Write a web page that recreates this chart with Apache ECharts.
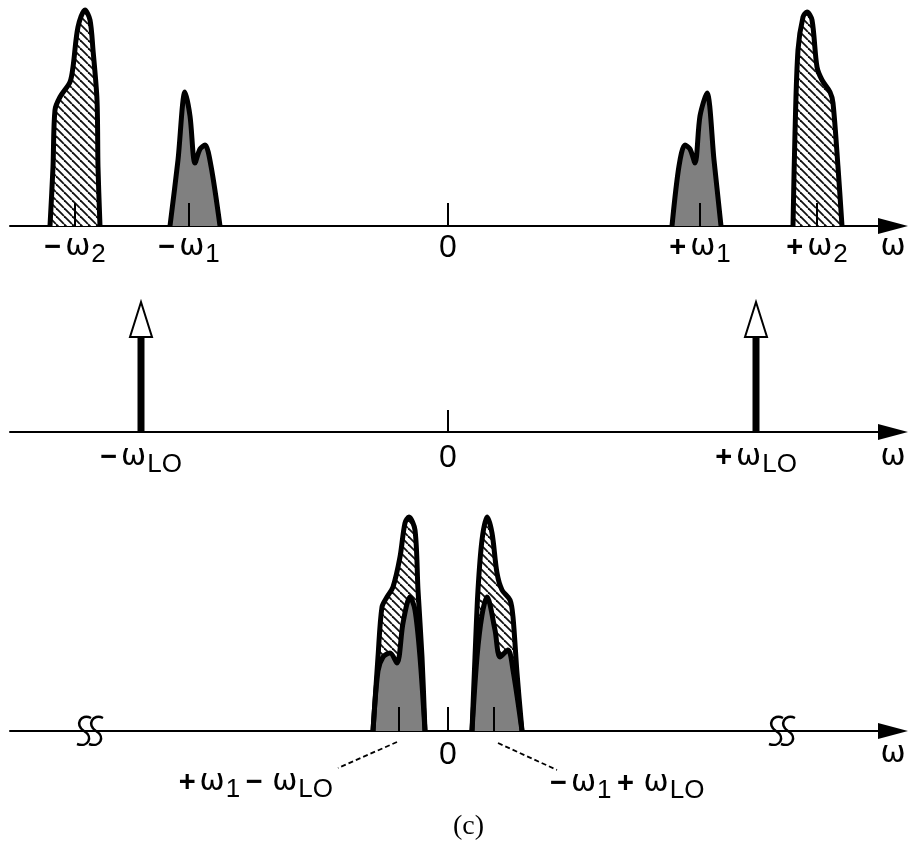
<!DOCTYPE html>
<html>
<head>
<meta charset="utf-8">
<title>Mixer spectra (c)</title>
<script src="https://cdn.jsdelivr.net/npm/echarts@6/dist/echarts.min.js"></script>
<style>
  html, body { margin: 0; padding: 0; background: #fff; }
  #chart { width: 910px; height: 847px; }
</style>
</head>
<body>
<div id="chart"></div>
<script>
// frequency axis, same scale on all three rows (0 = dc)
const axisMin = -438;
const axisMax = 445;

// row 1: input spectrum, [omega, amplitude]
const negOmega2 = [[-398, 0], [-395, 59], [-393, 116], [-388, 129], [-378, 144], [-375, 159], [-370, 199], [-363, 216], [-358, 206], [-355, 176], [-351, 126], [-350, 59], [-348, 0]];
const negOmega1 = [[-278, 0], [-270, 66], [-263, 134], [-258, 110], [-253, 63], [-248, 77], [-243, 81], [-237, 60], [-228, 0]];
const posOmega1 = [[224, 0], [231, 60], [237, 81], [242, 77], [247, 63], [252, 110], [259, 133], [266, 66], [273, 0]];
const posOmega2 = [[345, 0], [347, 93], [350, 176], [355, 209], [359, 214], [364, 206], [369, 159], [374, 146], [382, 134], [385, 123], [390, 59], [394, 0]];
const topTicks = [-373, -259, 0, 252, 369];
const topTickHeight = 23;
const topLabels = ['−ω2', '−ω1', '0', '+ω1', '+ω2'];

// row 2: local oscillator
const loX = [-307, 308];
const loStem = 95;
const loHead = 130;
const midTicks = [0];
const midTickHeight = 22;
const midLabelX = [-307, 0, 308];
const midLabels = ['−ωLO', '0', '+ωLO'];

// row 3: down-converted output (hatched = image, gray = wanted)
const lowImage = [[-75, 0], [-70, 74], [-66, 124], [-61, 134], [-55, 144], [-48, 174], [-43, 208], [-39, 214], [-33, 201], [-30, 141], [-26, 74], [-23, 0]];
const lowSignal = [[-75, 0], [-70, 60], [-65, 74], [-58, 78], [-51, 68], [-45, 108], [-38, 134], [-33, 121], [-28, 74], [-23, 0]];
const highImage = [[24, 0], [27, 74], [30, 141], [34, 191], [39, 214], [44, 198], [49, 158], [54, 141], [62, 131], [65, 114], [69, 58], [74, 0]];
const highSignal = [[24, 0], [29, 74], [34, 116], [39, 134], [47, 101], [52, 74], [60, 81], [65, 61], [74, 0]];
const bottomTicks = [-49, 0, 46];
const bottomTickHeight = 24;
const bottomLabelX = [0];
const bottomLabels = ['0'];
const breakX = [-358, 334];
const noteText = ['+ω1 − ωLO', '−ω1 + ωLO'];
const noteX = [-115, 102];
const noteY = [-51, -52];
const leaderStart = [[-51, -11], [50, -12]];
const leaderEnd = [[-110, -37], [109, -39]];

const chart = echarts.init(document.getElementById('chart'));

// diagonal hatch fill
const hatch = document.createElement('canvas');
hatch.width = 8;
hatch.height = 8;
const hc = hatch.getContext('2d');
hc.fillStyle = '#fff';
hc.fillRect(0, 0, 8, 8);
hc.strokeStyle = '#111';
hc.lineWidth = 1.8;
[-8, 0, 8].forEach(o => {
  hc.beginPath();
  hc.moveTo(o, 0);
  hc.lineTo(o + 8, 8);
  hc.stroke();
});
const hatchFill = { image: hatch, repeat: 'repeat' };
const grayFill = '#808080';

const rich = {
  p: { fontSize: 29, fontWeight: 'bold', fontFamily: 'Liberation Sans', color: '#000', verticalAlign: 'top', lineHeight: 30, padding: [1, 4, 0, 0] },
  w: { fontSize: 30, fontFamily: 'DejaVu Sans', color: '#000', verticalAlign: 'top', lineHeight: 30 },
  s: { fontSize: 26, fontFamily: 'Liberation Sans', color: '#000', verticalAlign: 'top', lineHeight: 30, padding: [10, 0, 0, 1] },
  g: { fontSize: 20, fontFamily: 'Liberation Sans', verticalAlign: 'top', lineHeight: 30 },
  z: { fontSize: 32, fontFamily: 'Liberation Sans', color: '#000', verticalAlign: 'top', lineHeight: 30 }
};

// '+ω1 − ωLO' -> rich text tokens
function richText(label) {
  let out = '';
  let i = 0;
  while (i < label.length) {
    const c = label[i];
    if (c === '+' || c === '−') {
      out += '{p|' + c + '}';
      i++;
    } else if (c === 'ω') {
      out += '{w|ω}';
      i++;
      let sub = '';
      while (i < label.length && label[i] !== ' ') {
        sub += label[i];
        i++;
      }
      if (sub) out += '{s|' + sub + '}';
    } else if (c === ' ') {
      out += '{g| }';
      i++;
    } else {
      out += '{z|' + c + '}';
      i++;
    }
  }
  return out;
}

const grids = [
  { left: 10, width: 883, top: 6, height: 220 },
  { left: 10, width: 883, top: 302, height: 130 },
  { left: 10, width: 883, top: 511, height: 220 }
];
const yMax = [220, 130, 220];

function freqAxis(gridIndex, values, labels, margin) {
  const all = values.concat([axisMax]);
  const names = labels.concat(['ω']);
  return {
    gridIndex: gridIndex,
    type: 'value',
    min: axisMin,
    max: axisMax,
    axisLine: {
      show: true,
      onZero: false,
      symbol: ['none', 'triangle'],
      symbolSize: [16, 30],
      lineStyle: { color: '#000', width: 2 }
    },
    axisTick: { show: false },
    splitLine: { show: false },
    axisLabel: {
      customValues: all,
      margin: margin,
      formatter: v => richText(names[all.indexOf(v)] || ''),
      rich: rich
    }
  };
}

function spectrum(data, fill, gridIndex) {
  return {
    type: 'line',
    xAxisIndex: gridIndex,
    yAxisIndex: gridIndex,
    data: data,
    smooth: 0.3,
    symbol: 'none',
    silent: true,
    lineStyle: { color: '#000', width: 5, join: 'round' },
    areaStyle: { color: fill, opacity: 1 }
  };
}

function ticks(xs, h, gridIndex) {
  return {
    type: 'custom',
    xAxisIndex: gridIndex,
    yAxisIndex: gridIndex,
    z: 5,
    silent: true,
    data: xs.map(x => [x, h]),
    renderItem: (params, api) => {
      const a = api.coord([api.value(0), 0]);
      const b = api.coord([api.value(0), api.value(1)]);
      return {
        type: 'line',
        shape: { x1: a[0], y1: a[1], x2: b[0], y2: b[1] },
        style: { stroke: '#000', lineWidth: 2 }
      };
    }
  };
}

const option = {
  animation: false,
  backgroundColor: '#fff',
  title: {
    text: '(c)',
    left: 448,
    top: 808,
    textStyle: { fontFamily: 'Liberation Serif', fontSize: 28, fontWeight: 'normal', color: '#000' }
  },
  grid: grids,
  xAxis: [
    freqAxis(0, topTicks, topLabels, 6),
    freqAxis(1, midLabelX, midLabels, 10),
    freqAxis(2, bottomLabelX, bottomLabels, 8)
  ],
  yAxis: yMax.map((m, i) => ({ gridIndex: i, type: 'value', min: 0, max: m, show: false })),
  series: [
    spectrum(negOmega2, hatchFill, 0),
    spectrum(negOmega1, grayFill, 0),
    spectrum(posOmega1, grayFill, 0),
    spectrum(posOmega2, hatchFill, 0),
    ticks(topTicks, topTickHeight, 0),

    ticks(midTicks, midTickHeight, 1),
    {
      type: 'custom',
      xAxisIndex: 1,
      yAxisIndex: 1,
      silent: true,
      data: loX.map(x => [x, loStem, loHead]),
      renderItem: (params, api) => {
        const base = api.coord([api.value(0), 0]);
        const stem = api.coord([api.value(0), api.value(1)]);
        const tip = api.coord([api.value(0), api.value(2)]);
        return {
          type: 'group',
          children: [
            {
              type: 'rect',
              shape: { x: base[0] - 3.5, y: stem[1], width: 7, height: base[1] - stem[1] },
              style: { fill: '#000' }
            },
            {
              type: 'polygon',
              shape: { points: [[stem[0] - 11, stem[1]], [stem[0] + 11, stem[1]], [tip[0], tip[1]]] },
              style: { fill: '#fff', stroke: '#000', lineWidth: 2 }
            }
          ]
        };
      }
    },

    spectrum(lowImage, hatchFill, 2),
    spectrum(lowSignal, grayFill, 2),
    spectrum(highImage, hatchFill, 2),
    spectrum(highSignal, grayFill, 2),
    ticks(bottomTicks, bottomTickHeight, 2),
    {
      // axis break marks
      type: 'custom',
      xAxisIndex: 2,
      yAxisIndex: 2,
      silent: true,
      z: 6,
      data: breakX.map(x => [x, 0]),
      renderItem: (params, api) => {
        const c = api.coord([api.value(0), api.value(1)]);
        const s = cx => {
          const cy = c[1];
          return 'M' + (cx + 7) + ' ' + (cy - 13) +
            ' C' + (cx - 3) + ' ' + (cy - 18) + ' ' + (cx - 10) + ' ' + (cy - 6) + ' ' + cx + ' ' + cy +
            ' S' + (cx + 4) + ' ' + (cy + 17) + ' ' + (cx - 7) + ' ' + (cy + 13);
        };
        return {
          type: 'group',
          children: [c[0] - 6, c[0] + 6].map(cx => ({
            type: 'path',
            shape: { pathData: s(cx) },
            style: { fill: 'none', stroke: '#000', lineWidth: 2.5 }
          }))
        };
      }
    },
    {
      // dashed leaders to the output labels
      type: 'custom',
      xAxisIndex: 2,
      yAxisIndex: 2,
      silent: true,
      data: leaderStart.map((p, i) => [p[0], p[1], leaderEnd[i][0], leaderEnd[i][1]]),
      renderItem: (params, api) => {
        const a = api.coord([api.value(0), api.value(1)]);
        const b = api.coord([api.value(2), api.value(3)]);
        return {
          type: 'line',
          shape: { x1: a[0], y1: a[1], x2: b[0], y2: b[1] },
          style: { stroke: '#000', lineWidth: 1.8, lineDash: [5, 3] }
        };
      }
    },
    {
      type: 'custom',
      xAxisIndex: 2,
      yAxisIndex: 2,
      silent: true,
      data: noteX.map((x, i) => [x, noteY[i], i]),
      renderItem: (params, api) => {
        const p = api.coord([api.value(0), api.value(1)]);
        const idx = api.value(2);
        return {
          type: 'text',
          x: p[0],
          y: p[1],
          style: {
            text: richText(noteText[idx]),
            rich: rich,
            align: api.value(0) < 0 ? 'right' : 'left',
            verticalAlign: 'middle'
          }
        };
      }
    }
  ]
};

chart.setOption(option);
</script>
</body>
</html>
